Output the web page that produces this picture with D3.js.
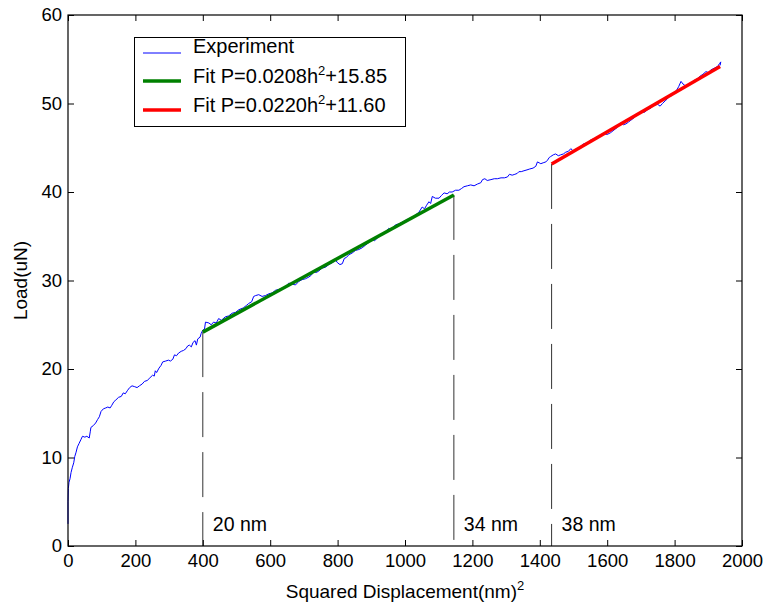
<!DOCTYPE html>
<html>
<head>
<meta charset="utf-8">
<script src="https://cdn.jsdelivr.net/npm/d3@7"></script>
<style>
  body { margin: 0; background: #fff; }
  svg text { font-family: "Liberation Sans", Arial, sans-serif; fill: #000; }
</style>
</head>
<body>
<svg id="chart" width="763" height="607"></svg>
<script>
// experiment: squared displacement (nm^2) vs load (uN)
const expX = [0, 0, 1, 3, 6, 9, 13, 17, 20, 24, 28, 33, 38, 43, 50, 56, 63, 66, 68, 75,
  82, 88, 93, 98, 105, 112, 118, 125, 130, 136, 142, 150, 158, 164, 170, 177, 183, 190, 198, 205,
  212, 220, 227, 235, 243, 251, 256, 259, 263, 270, 276, 281, 290, 298, 304, 311, 316, 322, 328, 336,
  343, 350, 355, 360, 366, 371, 377, 381, 385, 392, 395, 400, 405, 408, 418, 425, 432, 440, 447, 455,
  467, 477, 487, 497, 507, 520, 530, 536, 545, 551, 557, 566, 576, 586, 596, 606, 616, 626, 636, 645,
  655, 665, 675, 685, 695, 705, 715, 722, 729, 737, 745, 754, 764, 774, 784, 794, 800, 807, 814, 820,
  826, 833, 843, 853, 863, 873, 883, 893, 903, 910, 918, 925, 933, 942, 952, 958, 965, 972, 982, 992,
  1002, 1012, 1022, 1031, 1041, 1051, 1058, 1064, 1071, 1076, 1081, 1090, 1101, 1108, 1116, 1125, 1132, 1140, 1150, 1160,
  1168, 1175, 1185, 1195, 1205, 1215, 1225, 1230, 1237, 1244, 1255, 1265, 1274, 1285, 1295, 1304, 1310, 1318, 1326, 1333,
  1338, 1345, 1353, 1362, 1370, 1380, 1388, 1393, 1398, 1403, 1410, 1418, 1423, 1428, 1432, 1440, 1447, 1455, 1462, 1470,
  1477, 1485, 1492, 1500, 1510, 1521, 1528, 1536, 1545, 1551, 1560, 1570, 1580, 1591, 1600, 1610, 1620, 1630, 1640, 1648,
  1656, 1663, 1670, 1680, 1690, 1700, 1710, 1720, 1730, 1739, 1750, 1757, 1764, 1772, 1778, 1784, 1792, 1799, 1806, 1812,
  1819, 1825, 1832, 1839, 1848, 1858, 1868, 1876, 1884, 1893, 1900, 1908, 1918, 1928, 1933, 1937, 1935];
const expY = [2.5, 5, 6.5, 7.2, 7.6, 8.3, 8.9, 9.4, 10.1, 10.6, 11.2, 11.6, 12.0, 12.4, 12.3, 12.4, 12.2, 12.9, 13.4, 13.6,
  13.9, 14.3, 14.6, 15.2, 15.5, 15.6, 15.7, 15.6, 15.9, 16.3, 16.5, 16.8, 16.9, 17.3, 17.2, 17.6, 17.9, 18.1, 18.0, 17.9,
  18.1, 18.3, 18.6, 18.7, 19.0, 19.3, 19.2, 19.8, 19.6, 20.1, 20.4, 20.8, 20.9, 21.0, 20.9, 21.1, 21.6, 21.5, 21.8, 22.0,
  22.1, 22.3, 22.6, 22.7, 22.5, 23.0, 23.2, 22.7, 23.4, 23.6, 24.0, 24.4, 24.5, 25.3, 25.2, 25.0, 25.3, 25.2, 25.7, 25.5,
  25.9, 26.0, 26.3, 26.4, 26.7, 26.9, 27.2, 27.4, 27.6, 28.2, 28.3, 28.4, 28.2, 28.3, 28.5, 28.6, 28.9, 29.0, 29.1, 29.3,
  29.7, 29.6, 29.5, 29.9, 30.1, 30.2, 30.4, 30.6, 31.0, 30.9, 31.1, 31.4, 31.5, 31.8, 32.0, 32.3, 32.0, 31.8, 31.9, 32.5,
  32.6, 32.9, 33.1, 33.4, 33.5, 33.7, 34.0, 34.3, 34.6, 34.5, 34.8, 35.0, 35.3, 35.5, 35.9, 35.7, 36.0, 36.3, 36.4, 36.6,
  36.8, 37.0, 37.1, 37.4, 37.7, 38.3, 38.1, 38.5, 38.9, 38.7, 39.5, 39.3, 39.3, 39.6, 39.9, 39.8, 40.0, 40.0, 40.2, 40.2,
  40.4, 40.6, 40.7, 40.8, 40.7, 40.9, 41.05, 41.4, 41.5, 41.3, 41.4, 41.5, 41.5, 41.6, 41.6, 41.7, 42.0, 41.9, 42.0, 42.1,
  42.3, 42.3, 42.4, 42.5, 42.6, 42.7, 42.9, 43.4, 43.3, 43.2, 43.3, 43.4, 43.6, 43.9, 44.0, 44.2, 44.3, 44.1, 44.2, 44.3,
  44.5, 44.6, 44.9, 44.6, 44.8, 45.1, 45.4, 45.5, 45.6, 45.9, 46.0, 46.2, 46.4, 46.6, 46.5, 46.7, 47.0, 47.3, 47.8, 47.6,
  47.7, 47.9, 48.1, 48.4, 48.8, 49.1, 49.0, 49.3, 49.5, 49.8, 49.9, 49.7, 50.0, 50.3, 50.5, 50.8, 50.9, 51.2, 51.5, 51.9,
  52.5, 52.2, 52.0, 52.1, 52.3, 52.6, 52.8, 53.1, 53.3, 53.6, 53.5, 53.8, 54.0, 54.2, 54.5, 54.7, 54.3];

// fit segments (end points of P = a*h^2 + b)
const fit1X = [400, 1145];
const fit1Y = [24.17, 39.67];
const fit2X = [1435, 1935];
const fit2Y = [43.17, 54.17];

// vertical markers
const markX = [400, 1145, 1435];
const markTop = [24.17, 39.67, 43.17];
const markLabels = ["20 nm", "34 nm", "38 nm"];

const xTicks = [0, 200, 400, 600, 800, 1000, 1200, 1400, 1600, 1800, 2000];
const yTicks = [0, 10, 20, 30, 40, 50, 60];

const legendLabels = ["Experiment", "Fit P=0.0208h", "Fit P=0.0220h"];
const legendTails = ["", "+15.85", "+11.60"];
const legendColors = ["#0000ff", "#008000", "#ff0000"];

const svg = d3.select("#chart");
const m = { left: 68, right: 742, top: 15, bottom: 546 };

const x = d3.scaleLinear().domain([0, 2000]).range([m.left, m.right]);
const y = d3.scaleLinear().domain([0, 60]).range([m.bottom, m.top]);

// vertical dashed markers
svg.append("g")
  .selectAll("line")
  .data(markX)
  .join("line")
    .attr("x1", d => x(d)).attr("x2", d => x(d))
    .attr("y1", (d, i) => y(markTop[i]))
    .attr("y2", y(0))
    .attr("stroke", "#333")
    .attr("stroke-width", 1)
    .attr("stroke-dasharray", "45,15");

svg.append("g")
  .selectAll("text")
  .data(markX)
  .join("text")
    .attr("x", d => x(d) + 10)
    .attr("y", 531)
    .attr("font-size", "19.5px")
    .text((d, i) => markLabels[i]);

// experiment line
const line = d3.line().x(d => x(d[0])).y(d => y(d[1]));
const expData = expX.map((v, i) => [v, expY[i]]);
svg.append("path")
  .datum(expData)
  .attr("fill", "none")
  .attr("stroke", "#0000ff")
  .attr("stroke-width", 1)
  .attr("d", line);

// fits
svg.append("path")
  .datum(fit1X.map((v, i) => [v, fit1Y[i]]))
  .attr("fill", "none")
  .attr("stroke", "#008000")
  .attr("stroke-width", 3.5)
  .attr("d", line);

svg.append("path")
  .datum(fit2X.map((v, i) => [v, fit2Y[i]]))
  .attr("fill", "none")
  .attr("stroke", "#ff0000")
  .attr("stroke-width", 3.5)
  .attr("d", line);

// axes with inward ticks on all four sides
function styleAxis(g) {
  g.select(".domain").remove();
  g.selectAll(".tick line").attr("stroke", "#000");
  g.selectAll("text").attr("font-size", "18.5px").attr("font-family", "Liberation Sans, Arial, sans-serif");
}

svg.append("g")
  .attr("transform", `translate(0,${m.bottom})`)
  .call(d3.axisBottom(x).tickValues(xTicks).tickSize(-6).tickPadding(8).tickFormat(d3.format("d")))
  .call(styleAxis);

svg.append("g")
  .attr("transform", `translate(0,${m.top})`)
  .call(d3.axisTop(x).tickValues(xTicks).tickSize(-6).tickFormat(""))
  .call(styleAxis);

svg.append("g")
  .attr("transform", `translate(${m.left},0)`)
  .call(d3.axisLeft(y).tickValues(yTicks).tickSize(-6).tickPadding(6))
  .call(styleAxis);

svg.append("g")
  .attr("transform", `translate(${m.right},0)`)
  .call(d3.axisRight(y).tickValues(yTicks).tickSize(-6).tickFormat(""))
  .call(styleAxis);

svg.append("rect")
  .attr("x", m.left).attr("y", m.top)
  .attr("width", m.right - m.left).attr("height", m.bottom - m.top)
  .attr("fill", "none")
  .attr("stroke", "#000")
  .attr("stroke-width", 1.2);

// axis labels
const xl = svg.append("text")
  .attr("x", (m.left + m.right) / 2)
  .attr("y", 598)
  .attr("text-anchor", "middle")
  .attr("font-size", "19px");
xl.append("tspan").text("Squared Displacement(nm)");
xl.append("tspan").attr("dy", -8).attr("font-size", "13px").text("2");

svg.append("text")
  .attr("transform", `translate(27,${(m.top + m.bottom) / 2}) rotate(-90)`)
  .attr("text-anchor", "middle")
  .attr("font-size", "19px")
  .text("Load(uN)");

// legend
const lg = svg.append("g");
lg.append("rect")
  .attr("x", 134.5).attr("y", 37.5)
  .attr("width", 271).attr("height", 89)
  .attr("fill", "#fff")
  .attr("stroke", "#000")
  .attr("stroke-width", 1);

const rowY = [53, 81, 110];
const rows = lg.selectAll("g.row")
  .data(legendLabels)
  .join("g")
    .attr("class", "row");

rows.append("line")
  .attr("x1", 143).attr("x2", 181)
  .attr("y1", (d, i) => rowY[i]).attr("y2", (d, i) => rowY[i])
  .attr("stroke", (d, i) => legendColors[i])
  .attr("stroke-width", (d, i) => i === 0 ? 1 : 3.5);

const lt = rows.append("text")
  .attr("x", 193)
  .attr("y", (d, i) => rowY[i] + (i === 0 ? 0 : 2))
  .attr("font-size", "20px");
lt.append("tspan").text(d => d);
lt.append("tspan").attr("dy", -8).attr("font-size", "13px").text((d, i) => i === 0 ? "" : "2");
lt.append("tspan").attr("dy", 8).text((d, i) => legendTails[i]);
</script>
</body>
</html>
